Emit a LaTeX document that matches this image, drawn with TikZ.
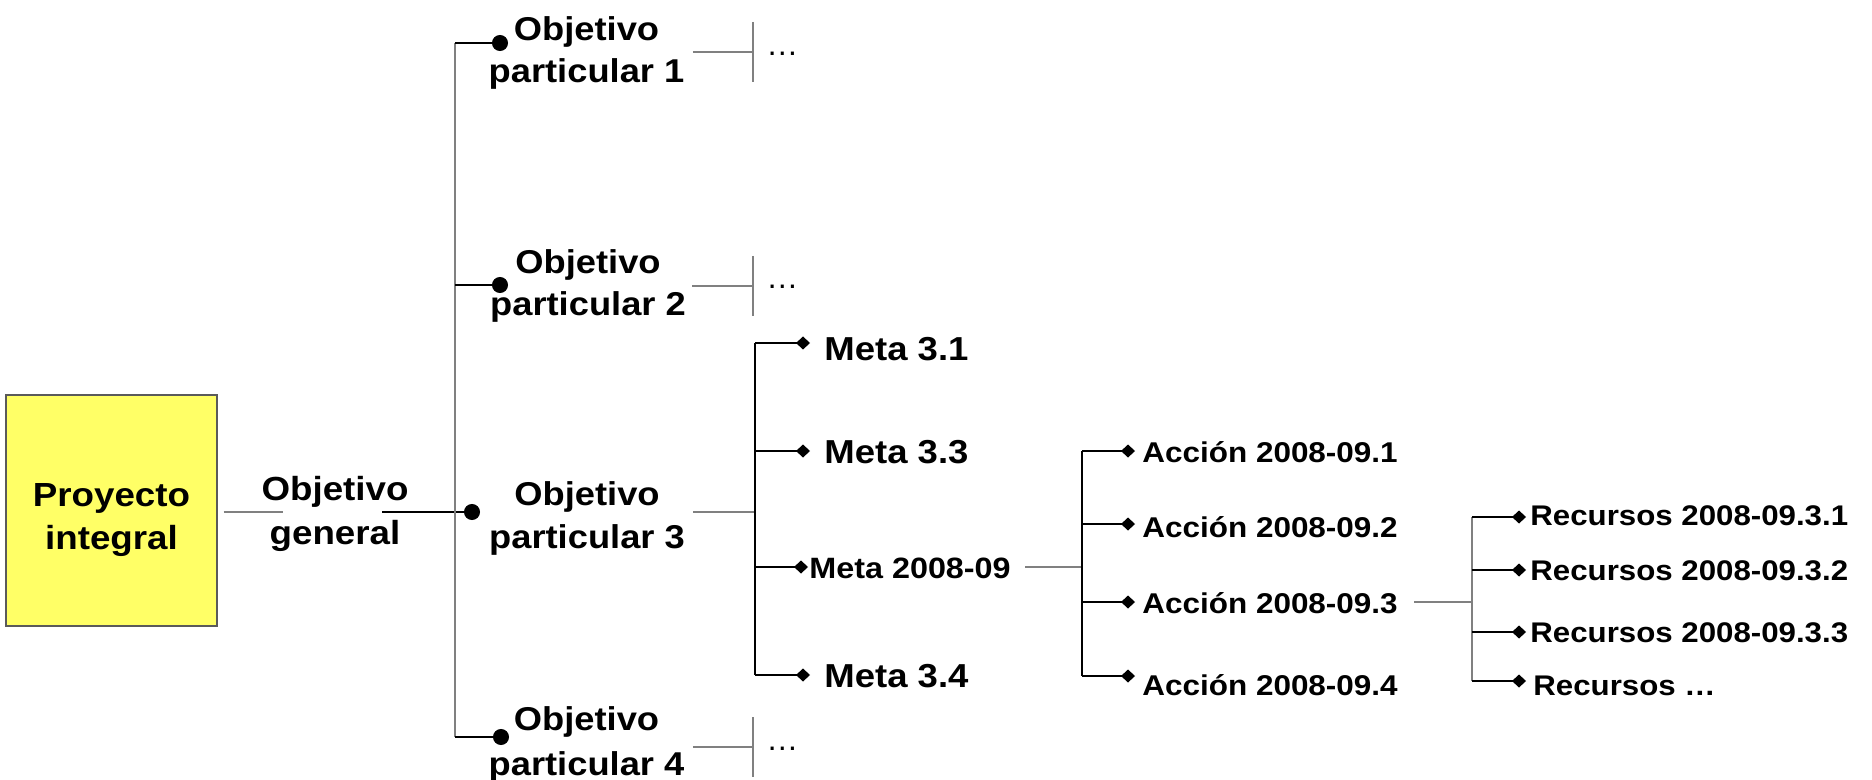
\documentclass[tikz,border=0pt]{standalone}
\usepackage{fontspec}
\usepackage{graphicx}
\setmainfont{Liberation Sans}
\usetikzlibrary{arrows.meta}
\definecolor{lgry}{RGB}{128,128,128}
\definecolor{boxy}{RGB}{255,255,102}
\definecolor{boxb}{RGB}{90,90,90}
\newcommand\hx[1]{\scalebox{1.1}[1]{#1}}
\newcommand\fPI{\fontsize{16.7}{21.5}\selectfont\bfseries}
\newcommand\fOG{\fontsize{16.7}{22}\selectfont\bfseries}
\newcommand\fOPa{\fontsize{16.5}{21}\selectfont\bfseries}
\newcommand\fOPc{\fontsize{16.5}{21.5}\selectfont\bfseries}
\newcommand\fOPd{\fontsize{16.5}{22.5}\selectfont\bfseries}
\newcommand\fMeta{\fontsize{16.6}{18}\selectfont\bfseries}
\newcommand\fMetaB{\fontsize{14.7}{16}\selectfont\bfseries}
\newcommand\fAcc{\fontsize{14.3}{18}\selectfont\bfseries}
\newcommand\fRec{\fontsize{14.2}{18}\selectfont\bfseries}
\newcommand\fDots{\fontsize{16}{18}\selectfont}
\tikzset{
 gry/.style={draw=lgry, line width=0.6pt},
 blk/.style={draw=black, line width=1.1pt},
 blkv/.style={draw=black, line width=0.7pt},
 dotend/.style={-{Circle[length=8pt,width=8pt]}},
 diaend/.style={-{Diamond[length=7pt,width=6.5pt]}},
 tb/.style={inner sep=0pt, align=center},
 sl/.style={inner sep=0pt, anchor=base west},
 pbox/.style={draw=boxb, fill=boxy, line width=0.6pt, minimum width=105.5pt, minimum height=115.5pt, inner sep=0pt},
}
\begin{document}
\begin{tikzpicture}[x=0.5pt,y=-0.5pt]
\useasboundingbox (0,0) rectangle (1872,780);

% main box
\node[pbox, label={[tb, font=\fPI, yshift=-4.75pt]center:\hx{Proyecto}\\\hx{integral}}] (pi) at (111.5,510.5) {};

% text nodes
\node[tb, font=\fOG] (og) at (335,514.3) {\hx{Objetivo}\\\hx{general}};
\node[tb, font=\fOPa] (op1) at (586.5,52.6) {\hx{Objetivo}\\\hx{particular 1}};
\node[tb, font=\fOPa] (op2) at (588,285.6) {\hx{Objetivo}\\\hx{particular 2}};
\node[tb, font=\fOPc] (op3) at (587,518.2) {\hx{Objetivo}\\\hx{particular 3}};
\node[tb, font=\fOPd] (op4) at (586.5,744.2) {\hx{Objetivo}\\\hx{particular 4}};

\node[sl, font=\fDots] (e1) at (766,56) {…};
\node[sl, font=\fDots] (e2) at (766,289) {…};
\node[sl, font=\fDots] (e4) at (766,750) {…};

\node[sl, font=\fMeta] (m1) at (824,360) {\hx{Meta 3.1}};
\node[sl, font=\fMeta] (m3) at (824,463) {\hx{Meta 3.3}};
\node[sl, font=\fMetaB] (m0) at (809,578) {\hx{Meta 2008-09}};
\node[sl, font=\fMeta] (m4) at (824,687) {\hx{Meta 3.4}};

\node[sl, font=\fAcc] (a1) at (1142,462) {\hx{Acción 2008-09.1}};
\node[sl, font=\fAcc] (a2) at (1142,537) {\hx{Acción 2008-09.2}};
\node[sl, font=\fAcc] (a3) at (1142,613) {\hx{Acción 2008-09.3}};
\node[sl, font=\fAcc] (a4) at (1142,695) {\hx{Acción 2008-09.4}};

\node[sl, font=\fRec] (r1) at (1530,525) {\hx{Recursos 2008-09.3.1}};
\node[sl, font=\fRec] (r2) at (1530,580) {\hx{Recursos 2008-09.3.2}};
\node[sl, font=\fRec] (r3) at (1530,642) {\hx{Recursos 2008-09.3.3}};
\node[sl, font=\fRec] (r4) at (1533,695) {\hx{Recursos …}};

% junction coordinates
\coordinate (sp1) at (455,43);
\coordinate (sp2) at (455,285);
\coordinate (sp3) at (455,512);
\coordinate (sp4) at (455,737);
\coordinate (d1) at (508,43);
\coordinate (d2) at (508,285);
\coordinate (d3) at (480,512);
\coordinate (d4) at (509,737);
\coordinate (ogin) at (283,512);
\coordinate (ogout) at (382,512);
\coordinate (t1) at (753,52);
\coordinate (t2) at (753,286);
\coordinate (t4) at (753,747);
\coordinate (jm) at (755,512);
\coordinate (mj1) at (755,343);
\coordinate (mj3) at (755,451);
\coordinate (mj0) at (755,567);
\coordinate (mj4) at (755,675);
\coordinate (ja) at (1082,567);
\coordinate (aj1) at (1082,451);
\coordinate (aj2) at (1082,524);
\coordinate (aj3) at (1082,602);
\coordinate (aj4) at (1082,676);
\coordinate (jr) at (1472,602);
\coordinate (rj1) at (1472,517);
\coordinate (rj2) at (1472,570);
\coordinate (rj3) at (1472,632);
\coordinate (rj4) at (1472,681);

% proyecto -> objetivo general
\draw[gry, shorten <=3pt] (pi.east |- sp3) -- (ogin);
% objetivo general -> objetivo particular 3
\draw[blk, dotend] (ogout) -- (d3);
% spine
\draw[gry] (sp1) -- (sp4);
\draw[blk, dotend] (sp1) -- (d1);
\draw[blk, dotend] (sp2) -- (d2);
\draw[blk, dotend] (sp4) -- (d4);

% tails with ellipsis
\draw[gry, shorten <=4pt] (op1.east |- t1) -- (t1);
\draw[gry] ([yshift=15pt]t1) -- ([yshift=-15pt]t1);
\draw[gry, shorten <=3pt] (op2.east |- t2) -- (t2);
\draw[gry] ([yshift=15pt]t2) -- ([yshift=-15pt]t2);
\draw[gry, shorten <=4pt] (op4.east |- t4) -- (t4);
\draw[gry] ([yshift=15pt]t4) -- ([yshift=-15pt]t4);

% metas
\draw[gry, shorten <=4pt] (op3.east |- jm) -- (jm);
\draw[blkv] (mj1) -- (mj4);
\draw[blk, diaend, shorten >=7pt] (mj1) -- (m1.west |- mj1);
\draw[blk, diaend, shorten >=7pt] (mj3) -- (m3.west |- mj3);
\draw[blk, diaend, shorten >=0.5pt] (mj0) -- (m0.west |- mj0);
\draw[blk, diaend, shorten >=7pt] (mj4) -- (m4.west |- mj4);

% acciones
\draw[gry, shorten <=7pt] (m0.east |- ja) -- (ja);
\draw[blkv] (aj1) -- (aj4);
\draw[blk, diaend, shorten >=3.5pt] (aj1) -- (a1.west |- aj1);
\draw[blk, diaend, shorten >=3.5pt] (aj2) -- (a2.west |- aj2);
\draw[blk, diaend, shorten >=3.5pt] (aj3) -- (a3.west |- aj3);
\draw[blk, diaend, shorten >=3.5pt] (aj4) -- (a4.west |- aj4);

% recursos
\draw[gry, shorten <=8pt] (a3.east |- jr) -- (jr);
\draw[gry] (rj1) -- (rj4);
\draw[blk, diaend, shorten >=2pt] (rj1) -- (r1.west |- rj1);
\draw[blk, diaend, shorten >=2pt] (rj2) -- (r2.west |- rj2);
\draw[blk, diaend, shorten >=2pt] (rj3) -- (r3.west |- rj3);
\draw[blk, diaend, shorten >=3.5pt] (rj4) -- (r4.west |- rj4);
\end{tikzpicture}
\end{document}
